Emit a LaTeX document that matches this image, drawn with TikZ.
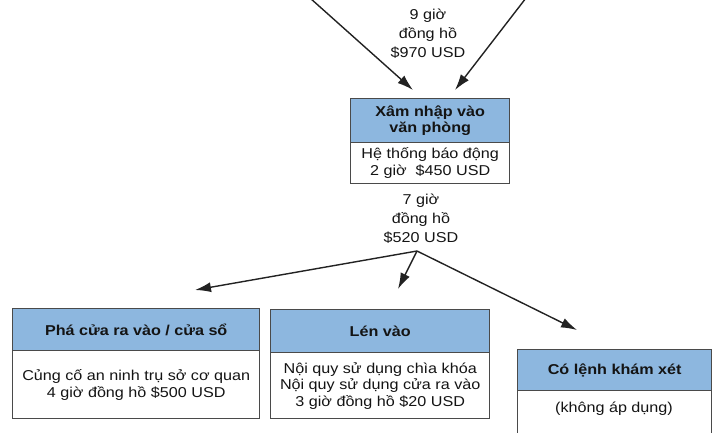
\documentclass[tikz,border=0pt]{standalone}
\usepackage{fontspec}
\setmainfont[FakeStretch=1.13]{Liberation Sans}
\usetikzlibrary{arrows.meta}
\definecolor{hdrblue}{HTML}{8DB7DF}
\definecolor{boxline}{HTML}{4A4A4A}
\definecolor{arrowc}{HTML}{222222}
\definecolor{txt}{HTML}{141414}
\begin{document}
\begin{tikzpicture}[x=1pt,y=-1pt,
  hdr/.style={draw=boxline, fill=hdrblue, line width=1.4pt, anchor=north west,
    inner sep=0pt, align=center, text=txt,
    font=\bfseries\fontsize{14.3}{16.8}\selectfont},
  bdy/.style={draw=boxline, fill=white, line width=1.4pt, anchor=north west,
    inner sep=0pt, align=center, text=txt,
    font=\fontsize{14.3}{16.6}\selectfont},
  lbl/.style={align=center, inner sep=0pt, text=txt,
    font=\fontsize{14.3}{18.8}\selectfont},
  arr/.style={draw=arrowc, line width=1.4pt, -{Latex[length=16pt,width=10pt]}}
]
\useasboundingbox (0,0) rectangle (713,432);
\clip (0,0) rectangle (713,432);

% top box
\node[hdr, minimum width=159pt, minimum height=44pt] (th) at (350,98) {Xâm nhập vào\\văn phòng};
\node[bdy, minimum width=159pt, minimum height=41pt] (tb) at (350,142) {Hệ thống báo động\\2 giờ\ \ \$450 USD};

% left box
\node[hdr, minimum width=247pt, minimum height=42pt] (lh) at (12,308) {Phá cửa ra vào / cửa sổ};
\node[bdy, minimum width=247pt, minimum height=68pt] (lb) at (12,350) {Củng cố an ninh trụ sở cơ quan\\4 giờ đồng hồ \$500 USD};

% middle box
\node[hdr, minimum width=219pt, minimum height=43pt] (mh) at (270,309) {Lén vào};
\node[bdy, minimum width=219pt, minimum height=66pt] (mb) at (270,352) {Nội quy sử dụng chìa khóa\\Nội quy sử dụng cửa ra vào\\3 giờ đồng hồ \$20 USD};

% right box (cut by the edge)
\node[hdr, minimum width=194pt, minimum height=41pt] (rh) at (517,349) {Có lệnh khám xét};
\node[bdy, minimum width=194pt, minimum height=60pt] (rb) at (517,390) {};
\node[lbl, font=\fontsize{14.3}{16.6}\selectfont] (rt) at (614,409) {(không áp dụng)};

% labels
\node[lbl] (l1) at (428,34) {9 giờ\\đồng hồ\\\$970 USD};
\node[lbl] (l2) at (421,219) {7 giờ\\đồng hồ\\\$520 USD};

% arrows
\coordinate (s1) at (310,-2);
\coordinate (s2) at (526,-2);
\coordinate (e1) at (413,90);
\coordinate (e2) at (455,90);
\draw[arr] (s1) -- (e1);
\draw[arr] (s2) -- (e2);

\coordinate (br) at (417,251);
\coordinate (tl) at (195,290);
\coordinate (tm) at (398,289);
\coordinate (tr) at (577,330);
\draw[arr] (br) -- (tl);
\draw[arr] (br) -- (tm);
\draw[arr] (br) -- (tr);
\end{tikzpicture}
\end{document}
